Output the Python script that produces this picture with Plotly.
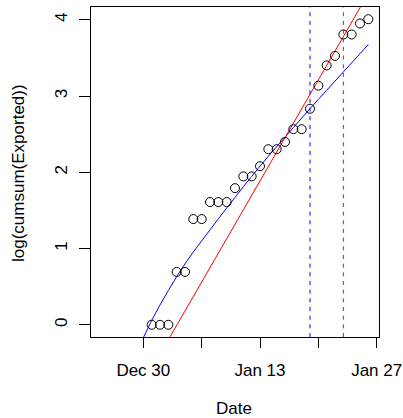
import numpy as np
import pandas as pd
import plotly.graph_objects as go

# ---- data ----
dates = pd.date_range("2019-12-31", "2020-01-26", freq="D")
cum_exported = [1, 1, 1, 2, 2, 4, 4, 5, 5, 5, 6, 7, 7, 8, 10, 10, 11, 13, 13,
                17, 23, 30, 34, 45, 45, 52, 55]
log_cum = np.log(cum_exported)

# blue fitted curve (values read at each day, Dec 30 .. Jan 26)
blue_dates = pd.date_range("2019-12-30", "2020-01-26", freq="D")
blue_fit = [-0.17, 0.055, 0.26, 0.45, 0.63, 0.80, 0.955, 1.10, 1.245, 1.39,
            1.53, 1.67, 1.81, 1.945, 2.08, 2.21, 2.335, 2.46, 2.585, 2.71,
            2.835, 2.955, 3.075, 3.195, 3.315, 3.435, 3.555, 3.676]

# red fitted straight line (values read at its two ends)
red_dates = pd.to_datetime(["2019-12-30", "2020-01-27"])
red_fit = [-0.765, 4.536]

# vertical reference dates
blue_vline_date = "2020-01-19"
red_vline_date = "2020-01-23"

# axis ticks
x_tickvals = pd.to_datetime(["2019-12-30", "2020-01-06", "2020-01-13",
                             "2020-01-20", "2020-01-27"])
x_ticktext = ["Dec 30", "", "Jan 13", "", "Jan 27"]
y_tickvals = [0, 1, 2, 3, 4]
y_ticktext = ["0", "1", "2", "3", "4"]

# ---- figure ----
FONT = "Liberation Sans, Arial, Helvetica, sans-serif"
fig = go.Figure()

fig.add_trace(go.Scatter(x=blue_dates, y=blue_fit, mode="lines",
                         line=dict(color="blue", width=1, shape="spline"),
                         showlegend=False, hoverinfo="skip"))
fig.add_trace(go.Scatter(x=red_dates, y=red_fit, mode="lines",
                         line=dict(color="red", width=1),
                         showlegend=False, hoverinfo="skip"))
fig.add_trace(go.Scatter(x=dates, y=log_cum, mode="markers",
                         marker=dict(symbol="circle-open", size=9,
                                     color="black", line=dict(width=1, color="black")),
                         showlegend=False))

for d, c in [(blue_vline_date, "blue"), (red_vline_date, "red")]:
    fig.add_shape(type="line", xref="x", yref="paper", x0=d, x1=d, y0=0, y1=1,
                  line_color=c, line_width=1, line_dash="4px,4.67px")

x0 = pd.Timestamp("2019-12-30") - pd.Timedelta(days=6.28)
x1 = pd.Timestamp("2019-12-30") + pd.Timedelta(days=28.28)

fig.update_xaxes(type="date", range=[x0, x1], tickvals=x_tickvals,
                 ticktext=x_ticktext, ticks="outside", ticklen=10,
                 tickwidth=1, tickcolor="black", showline=True,
                 linecolor="black", linewidth=1, mirror=True,
                 showgrid=False, zeroline=False, automargin=False,
                 ticklabelstandoff=8,
                 tickfont=dict(family=FONT, size=17, color="black"))
fig.update_yaxes(range=[-0.1603, 4.1673], tickvals=y_tickvals,
                 ticktext=y_ticktext, ticks="outside", ticklen=11,
                 tickwidth=1, tickcolor="black", showline=True,
                 linecolor="black", linewidth=1, mirror=True,
                 showgrid=False, zeroline=False, tickangle=-90,
                 automargin=False, ticklabelstandoff=5,
                 tickfont=dict(family=FONT, size=17, color="black"))

fig.add_annotation(text="Date", xref="paper", yref="paper", x=0.498, y=-0.216,
                   xanchor="center", yanchor="middle", showarrow=False,
                   font=dict(family=FONT, size=17, color="black"))
fig.add_annotation(text="log(cumsum(Exported))", xref="paper", yref="paper",
                   x=-0.25, y=0.497, xanchor="center", yanchor="middle",
                   textangle=-90, showarrow=False,
                   font=dict(family=FONT, size=17, color="black"))

fig.update_layout(width=403, height=418,
                  margin=dict(l=91, r=24, t=7, b=81),
                  paper_bgcolor="white", plot_bgcolor="white")

fig.write_html("out.html", config={"displayModeBar": False},
               post_script="document.body.style.margin='0';"
                           "document.body.style.overflow='hidden';")
